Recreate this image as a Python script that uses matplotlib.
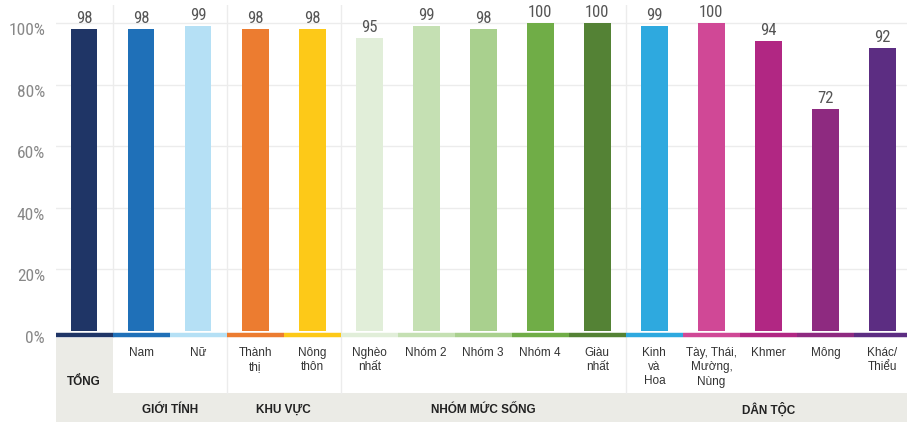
import matplotlib.pyplot as plt
import matplotlib.transforms as mtransforms
from matplotlib.patches import Rectangle

# --- data ---
categories = ['TỔNG', 'Nam', 'Nữ', 'Thành\nthị', 'Nông\nthôn',
              'Nghèo\nnhất', 'Nhóm 2', 'Nhóm 3', 'Nhóm 4', 'Giàu\nnhất',
              'Kinh\nvà\nHoa', 'Tày, Thái,\nMường,\nNùng', 'Khmer', 'Mông', 'Khác/\nThiểu']
values = [98, 98, 99, 98, 98, 95, 99, 98, 100, 100, 99, 100, 94, 72, 92]
colors = ['#1f3566', '#1f70b8', '#b5e0f5', '#ec7c30', '#fdc918',
          '#e1eed9', '#c5e0b3', '#a9d08e', '#70ad47', '#548235',
          '#2ea9df', '#d04896', '#b12783', '#8e2a80', '#5c2d82']
groups = ['GIỚI TÍNH', 'KHU VỰC', 'NHÓM MỨC SỐNG', 'DÂN TỘC']
group_spans = [(1, 2), (3, 4), (5, 9), (10, 14)]
yticks = [0, 20, 40, 60, 80, 100]

W, H = 907, 422
narrow = ['Roboto Condensed', 'Roboto', 'DejaVu Sans']
sans = ['Liberation Sans', 'DejaVu Sans']
band_col = '#ebebe6'
grid_col = '#ececec'

fig = plt.figure(figsize=(W / 100, H / 100), dpi=100)

# main plot area (pixel geometry)
px = 3.08  # pixels per percent
ax = fig.add_axes([55.5 / W, (H - 338) / H, 855.5 / W, 333 / H])
ax.set_xlim(-0.5, 14.5)
ax.set_ylim(-7 / px, 326 / px)

x = list(range(len(values)))
ax.bar(x, values, width=0.47, color=colors, zorder=3)
for i, (v, c) in enumerate(zip(values, colors)):
    ax.plot([i - 0.5, i + 0.5], [-3.5 / px, -3.5 / px], color=c, lw=3.2,
            solid_capstyle='butt', zorder=4)
    ax.text(i, v + 1.0, str(v), ha='center', va='bottom', fontsize=12,
            color='#555555', family=narrow)

for y in yticks[1:]:
    ax.axhline(y, color=grid_col, lw=1, zorder=1)
for b in [0.5, 2.5, 4.5, 9.5]:
    ax.axvline(b, color=grid_col, lw=1, zorder=1)

ax.set_yticks(yticks)
ax.set_yticklabels([f'{t}%' for t in yticks], family=narrow, fontsize=12.5,
                   color='#888888')
ax.tick_params(axis='y', length=0, pad=7.5)
ax.set_xticks([])
off = mtransforms.ScaledTranslation(0, -6 / 100, fig.dpi_scale_trans)
for lab in ax.get_yticklabels():
    lab.set_transform(lab.get_transform() + off)
for s in ax.spines.values():
    s.set_visible(False)

# label area under the bars
lab = fig.add_axes([55.5 / W, 0, 855.5 / W, 84 / H])
lab.set_xlim(-0.5, 14.5)
lab.set_ylim(0, 84)
lab.axis('off')
lab.add_patch(Rectangle((-0.5, 0), 1, 84, color=band_col, lw=0))
lab.add_patch(Rectangle((0.5, 0), 14, 29, color=band_col, lw=0))
for b in [2.5, 4.5, 9.5]:
    lab.plot([b, b], [29, 84], color=grid_col, lw=1)
lab.text(0, 40, categories[0], ha='center', va='center', fontsize=8.5,
         fontweight='bold', color='#222222', family=sans)
for i, name in enumerate(categories[1:], start=1):
    lab.text(i, 75, name, ha='center', va='top', fontsize=8.5,
             color='#333333', family=sans, linespacing=1.25)
for g, (a, b) in zip(groups, group_spans):
    lab.text((a + b) / 2, 12, g, ha='center', va='center', fontsize=8.5,
             fontweight='bold', color='#222222', family=sans)

fig.savefig('out.png', dpi=100)
